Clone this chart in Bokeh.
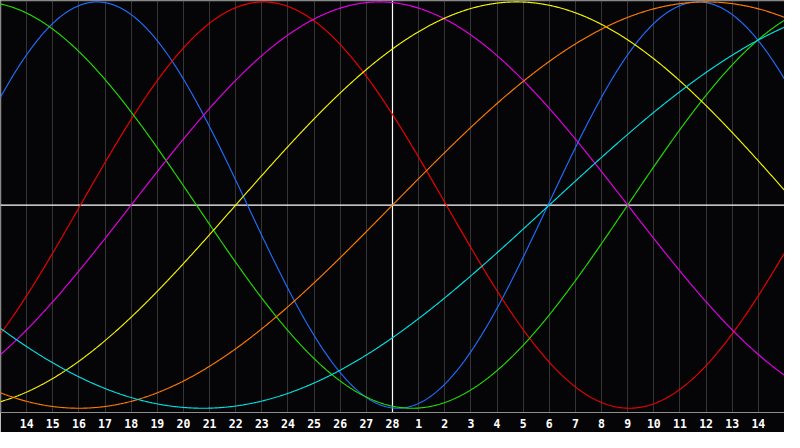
import numpy as np
from bokeh.plotting import figure
from bokeh.models import FixedTicker, Span, ColumnDataSource
from bokeh.embed import file_html
from bokeh.resources import INLINE

# Day labels along the bottom (position index 1..29)
day_labels = [14, 15, 16, 17, 18, 19, 20, 21, 22, 23, 24, 25, 26, 27, 28,
              1, 2, 3, 4, 5, 6, 7, 8, 9, 10, 11, 12, 13, 14]
today_index = 15          # position of "28" (centre line)

# Biorhythm cycles
cycle_names = ["physical", "emotional", "intellectual", "intuitive",
               "aesthetic", "awareness", "spiritual"]
periods = [23, 28, 33, 38, 43, 48, 53]
# position index where each cycle crosses zero going upward
zero_up = [20.95, 3.06, 24.0, 5.0, 9.0, 15.0, 21.0]
colors = ["#1e6eff", "#f00000", "#22dd00", "#e600e6",
          "#f5f500", "#ff7a00", "#00e2e2"]

BG = "#050508"
x_start, x_end = 0, 30
y_lo, y_hi = -1.021, 1.007

p = figure(width=784, height=432, x_range=(x_start, x_end), y_range=(y_lo, y_hi),
           output_backend="svg", toolbar_location=None,
           background_fill_color=BG, border_fill_color=BG,
           min_border_left=0, min_border_right=0, min_border_top=0,
           min_border_bottom=20, outline_line_color=None)

ticks = list(range(1, len(day_labels) + 1))
p.xaxis.ticker = FixedTicker(ticks=ticks)
p.xaxis.major_label_overrides = {t: str(d) for t, d in zip(ticks, day_labels)}
p.xaxis.major_tick_line_color = None
p.xaxis.minor_tick_line_color = None
p.xaxis.major_tick_out = 0
p.xaxis.major_tick_in = 0
p.xaxis.major_label_standoff = 6
p.xaxis.axis_line_color = "#8f8f8f"
p.xaxis.axis_line_width = 1
p.xaxis.major_label_text_color = "#ffffff"
p.xaxis.major_label_text_font = "DejaVu Sans Mono"
p.xaxis.major_label_text_font_style = "bold"
p.xaxis.major_label_text_font_size = "11.5px"

p.yaxis.visible = False
p.ygrid.grid_line_color = None
p.xgrid.ticker = FixedTicker(ticks=ticks)
p.xgrid.grid_line_color = "#343434"
p.xgrid.grid_line_width = 1

# frame borders (left and top)
p.add_layout(Span(location=x_start, dimension="height", line_color="#8f8f8f",
                  line_width=1.5, level="underlay"))
p.add_layout(Span(location=y_hi, dimension="width", line_color="#8f8f8f",
                  line_width=1.5, level="underlay"))
# centre lines: today and zero
p.add_layout(Span(location=today_index, dimension="height", line_color="#ffffff",
                  line_width=1.2, level="underlay"))
p.add_layout(Span(location=0, dimension="width", line_color="#ffffff",
                  line_width=1.2, level="underlay"))

xs = np.linspace(x_start, x_end, 901)
for name, P, z, c in zip(cycle_names, periods, zero_up, colors):
    ys = np.sin(2 * np.pi * (xs - z) / P)
    src = ColumnDataSource(dict(x=xs, y=ys))
    p.line("x", "y", source=src, line_color=c, line_width=1.15)

open("out.html", "w").write(file_html(p, INLINE))
